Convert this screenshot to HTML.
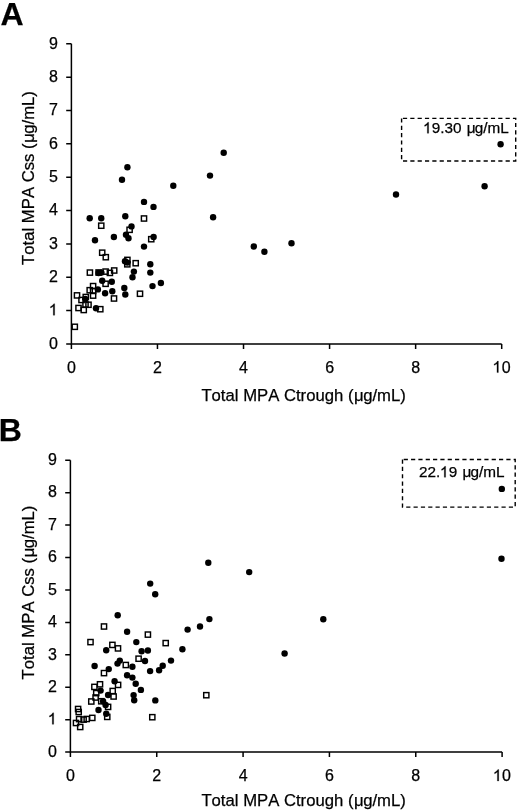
<!DOCTYPE html>
<html><head><meta charset="utf-8"><style>
html,body{margin:0;padding:0;background:#fff;width:520px;height:810px;overflow:hidden}
svg{display:block;will-change:transform}
text{font-family:"Liberation Sans",sans-serif;fill:#000;font-kerning:none;stroke:#000;stroke-width:0.25px}
.t{font-size:16px}
.a{font-size:16.7px;font-kerning:none}
.b{font-size:15.3px}
.L{font-size:32px;font-weight:bold}
</style></head><body>
<svg width="520" height="810" viewBox="0 0 520 810">
<path d="M71.4 43.8V343.9H501.7" fill="none" stroke="#000" stroke-width="1.5"/>
<path d="M66.2 343.90H71.4 M66.2 310.56H71.4 M66.2 277.22H71.4 M66.2 243.88H71.4 M66.2 210.54H71.4 M66.2 177.20H71.4 M66.2 143.86H71.4 M66.2 110.52H71.4 M66.2 77.18H71.4 M66.2 43.84H71.4 M71.40 343.9V348.9 M157.46 343.9V348.9 M243.52 343.9V348.9 M329.58 343.9V348.9 M415.64 343.9V348.9 M501.70 343.9V348.9 M66.2 43.8H71.4" fill="none" stroke="#000" stroke-width="1.5"/>
<text x="58.00" y="348.60" text-anchor="end" class="t">0</text>
<text x="58.00" y="315.26" text-anchor="end" class="t"> </text><path d="M713 0L533 0L533 1147Q468 1085 362 1023Q257 961 173 930L173 1104Q324 1175 437 1276Q550 1377 597 1472L713 1472Z" transform="translate(49.102 315.260) scale(0.007812 -0.007812)" stroke="#000" stroke-width="0.25" vector-effect="non-scaling-stroke"/>
<text x="58.00" y="281.92" text-anchor="end" class="t">2</text>
<text x="58.00" y="248.58" text-anchor="end" class="t">3</text>
<text x="58.00" y="215.24" text-anchor="end" class="t">4</text>
<text x="58.00" y="181.90" text-anchor="end" class="t">5</text>
<text x="58.00" y="148.56" text-anchor="end" class="t">6</text>
<text x="58.00" y="115.22" text-anchor="end" class="t">7</text>
<text x="58.00" y="81.88" text-anchor="end" class="t">8</text>
<text x="58.00" y="48.54" text-anchor="end" class="t">9</text>
<text x="71.40" y="372.60" text-anchor="middle" class="t">0</text>
<text x="157.46" y="372.60" text-anchor="middle" class="t">2</text>
<text x="243.52" y="372.60" text-anchor="middle" class="t">4</text>
<text x="329.58" y="372.60" text-anchor="middle" class="t">6</text>
<text x="415.64" y="372.60" text-anchor="middle" class="t">8</text>
<text x="501.70" y="372.60" text-anchor="middle" class="t"> 0</text><path d="M713 0L533 0L533 1147Q468 1085 362 1023Q257 961 173 930L173 1104Q324 1175 437 1276Q550 1377 597 1472L713 1472Z" transform="translate(492.802 372.600) scale(0.007812 -0.007812)" stroke="#000" stroke-width="0.25" vector-effect="non-scaling-stroke"/>
<path d="M401.6 118.4V161.0H515.7V118.4Z" fill="none" stroke="#000" stroke-width="1.4" stroke-dasharray="4.2 3.13"/>
<text x="423.33" y="133.30" class="b"> 9.30 <tspan dx="1">μ</tspan><tspan dx="-1">g</tspan>/mL</text><path d="M713 0L533 0L533 1147Q468 1085 362 1023Q257 961 173 930L173 1104Q324 1175 437 1276Q550 1377 597 1472L713 1472Z" transform="translate(423.330 133.300) scale(0.007471 -0.007471)" stroke="#000" stroke-width="0.25" vector-effect="non-scaling-stroke"/>
<rect x="141.40" y="215.90" width="5.2" height="5.2" fill="none" stroke="#000" stroke-width="1.45"/>
<rect x="98.65" y="223.10" width="5.2" height="5.2" fill="none" stroke="#000" stroke-width="1.45"/>
<rect x="127.00" y="227.20" width="5.2" height="5.2" fill="none" stroke="#000" stroke-width="1.45"/>
<rect x="148.65" y="236.60" width="5.2" height="5.2" fill="none" stroke="#000" stroke-width="1.45"/>
<rect x="99.60" y="250.10" width="5.2" height="5.2" fill="none" stroke="#000" stroke-width="1.45"/>
<rect x="103.20" y="254.60" width="5.2" height="5.2" fill="none" stroke="#000" stroke-width="1.45"/>
<rect x="124.80" y="257.30" width="5.2" height="5.2" fill="none" stroke="#000" stroke-width="1.45"/>
<rect x="124.70" y="261.70" width="5.2" height="5.2" fill="none" stroke="#000" stroke-width="1.45"/>
<rect x="133.10" y="260.60" width="5.2" height="5.2" fill="none" stroke="#000" stroke-width="1.45"/>
<rect x="137.40" y="291.15" width="5.2" height="5.2" fill="none" stroke="#000" stroke-width="1.45"/>
<rect x="87.30" y="270.00" width="5.2" height="5.2" fill="none" stroke="#000" stroke-width="1.45"/>
<rect x="96.00" y="269.90" width="5.2" height="5.2" fill="none" stroke="#000" stroke-width="1.45"/>
<rect x="103.00" y="269.00" width="5.2" height="5.2" fill="none" stroke="#000" stroke-width="1.45"/>
<rect x="107.30" y="270.30" width="5.2" height="5.2" fill="none" stroke="#000" stroke-width="1.45"/>
<rect x="111.60" y="267.90" width="5.2" height="5.2" fill="none" stroke="#000" stroke-width="1.45"/>
<rect x="103.00" y="281.20" width="5.2" height="5.2" fill="none" stroke="#000" stroke-width="1.45"/>
<rect x="90.50" y="283.50" width="5.2" height="5.2" fill="none" stroke="#000" stroke-width="1.45"/>
<rect x="87.10" y="287.60" width="5.2" height="5.2" fill="none" stroke="#000" stroke-width="1.45"/>
<rect x="90.50" y="288.30" width="5.2" height="5.2" fill="none" stroke="#000" stroke-width="1.45"/>
<rect x="74.40" y="292.80" width="5.2" height="5.2" fill="none" stroke="#000" stroke-width="1.45"/>
<rect x="90.50" y="293.00" width="5.2" height="5.2" fill="none" stroke="#000" stroke-width="1.45"/>
<rect x="111.40" y="295.90" width="5.2" height="5.2" fill="none" stroke="#000" stroke-width="1.45"/>
<rect x="78.90" y="297.40" width="5.2" height="5.2" fill="none" stroke="#000" stroke-width="1.45"/>
<rect x="83.15" y="294.40" width="5.2" height="5.2" fill="none" stroke="#000" stroke-width="1.45"/>
<rect x="82.90" y="301.90" width="5.2" height="5.2" fill="none" stroke="#000" stroke-width="1.45"/>
<rect x="85.90" y="302.15" width="5.2" height="5.2" fill="none" stroke="#000" stroke-width="1.45"/>
<rect x="75.90" y="305.40" width="5.2" height="5.2" fill="none" stroke="#000" stroke-width="1.45"/>
<rect x="81.15" y="307.40" width="5.2" height="5.2" fill="none" stroke="#000" stroke-width="1.45"/>
<rect x="97.70" y="306.60" width="5.2" height="5.2" fill="none" stroke="#000" stroke-width="1.45"/>
<rect x="72.20" y="324.20" width="5.2" height="5.2" fill="none" stroke="#000" stroke-width="1.45"/>
<circle cx="127.4" cy="167.3" r="3.2"/>
<circle cx="122.0" cy="179.8" r="3.2"/>
<circle cx="144.0" cy="201.9" r="3.2"/>
<circle cx="153.5" cy="206.9" r="3.2"/>
<circle cx="125.3" cy="216.3" r="3.2"/>
<circle cx="89.7" cy="218.3" r="3.2"/>
<circle cx="101.25" cy="218.3" r="3.2"/>
<circle cx="131.5" cy="226.4" r="3.2"/>
<circle cx="126.0" cy="234.7" r="3.2"/>
<circle cx="128.5" cy="238.2" r="3.2"/>
<circle cx="113.9" cy="237.0" r="3.2"/>
<circle cx="95.0" cy="240.2" r="3.2"/>
<circle cx="153.6" cy="237.0" r="3.2"/>
<circle cx="144.0" cy="246.6" r="3.2"/>
<circle cx="125.0" cy="261.3" r="3.2"/>
<circle cx="127.4" cy="262.6" r="3.2"/>
<circle cx="150.3" cy="264.2" r="3.2"/>
<circle cx="133.9" cy="271.6" r="3.2"/>
<circle cx="150.3" cy="272.6" r="3.2"/>
<circle cx="132.5" cy="277.2" r="3.2"/>
<circle cx="160.9" cy="283.0" r="3.2"/>
<circle cx="152.5" cy="286.1" r="3.2"/>
<circle cx="124.3" cy="288.0" r="3.2"/>
<circle cx="125.3" cy="294.5" r="3.2"/>
<circle cx="98.6" cy="273.0" r="3.2"/>
<circle cx="101.4" cy="272.6" r="3.2"/>
<circle cx="102.2" cy="280.8" r="3.2"/>
<circle cx="111.8" cy="281.7" r="3.2"/>
<circle cx="97.9" cy="289.4" r="3.2"/>
<circle cx="105.1" cy="293.3" r="3.2"/>
<circle cx="112.3" cy="291.3" r="3.2"/>
<circle cx="85.2" cy="299.0" r="3.2"/>
<circle cx="96.0" cy="308.3" r="3.2"/>
<circle cx="223.7" cy="152.7" r="3.2"/>
<circle cx="210.0" cy="175.6" r="3.2"/>
<circle cx="173.3" cy="185.8" r="3.2"/>
<circle cx="213.1" cy="217.3" r="3.2"/>
<circle cx="253.8" cy="246.5" r="3.2"/>
<circle cx="264.4" cy="251.7" r="3.2"/>
<circle cx="291.5" cy="243.3" r="3.2"/>
<circle cx="500.6" cy="144.2" r="3.2"/>
<circle cx="484.6" cy="186.2" r="3.2"/>
<circle cx="396.0" cy="194.5" r="3.2"/>
<text x="33.5" y="178.0" class="a" text-anchor="middle" transform="rotate(-90 33.5 178.0)">Total MPA Css (<tspan dx="0.6">μ</tspan><tspan dx="-0.6">g/mL)</tspan></text>
<text x="303.6" y="400.5" class="a" text-anchor="middle">Total MPA Ctrough (<tspan dx="0.6">μ</tspan><tspan dx="-0.6">g/mL)</tspan></text>
<text x="0.5" y="25" class="L">A</text>
<path d="M70.4 460.2V752.1H502.1" fill="none" stroke="#000" stroke-width="1.5"/>
<path d="M65.2 752.10H70.4 M65.2 719.67H70.4 M65.2 687.24H70.4 M65.2 654.81H70.4 M65.2 622.38H70.4 M65.2 589.95H70.4 M65.2 557.52H70.4 M65.2 525.09H70.4 M65.2 492.66H70.4 M65.2 460.23H70.4 M70.40 752.1V757.1 M156.74 752.1V757.1 M243.08 752.1V757.1 M329.42 752.1V757.1 M415.76 752.1V757.1 M502.10 752.1V757.1 M65.2 460.2H70.4" fill="none" stroke="#000" stroke-width="1.5"/>
<text x="57.00" y="756.80" text-anchor="end" class="t">0</text>
<text x="57.00" y="724.37" text-anchor="end" class="t"> </text><path d="M713 0L533 0L533 1147Q468 1085 362 1023Q257 961 173 930L173 1104Q324 1175 437 1276Q550 1377 597 1472L713 1472Z" transform="translate(48.102 724.370) scale(0.007812 -0.007812)" stroke="#000" stroke-width="0.25" vector-effect="non-scaling-stroke"/>
<text x="57.00" y="691.94" text-anchor="end" class="t">2</text>
<text x="57.00" y="659.51" text-anchor="end" class="t">3</text>
<text x="57.00" y="627.08" text-anchor="end" class="t">4</text>
<text x="57.00" y="594.65" text-anchor="end" class="t">5</text>
<text x="57.00" y="562.22" text-anchor="end" class="t">6</text>
<text x="57.00" y="529.79" text-anchor="end" class="t">7</text>
<text x="57.00" y="497.36" text-anchor="end" class="t">8</text>
<text x="57.00" y="464.93" text-anchor="end" class="t">9</text>
<text x="70.40" y="781.00" text-anchor="middle" class="t">0</text>
<text x="156.74" y="781.00" text-anchor="middle" class="t">2</text>
<text x="243.08" y="781.00" text-anchor="middle" class="t">4</text>
<text x="329.42" y="781.00" text-anchor="middle" class="t">6</text>
<text x="415.76" y="781.00" text-anchor="middle" class="t">8</text>
<text x="502.10" y="781.00" text-anchor="middle" class="t"> 0</text><path d="M713 0L533 0L533 1147Q468 1085 362 1023Q257 961 173 930L173 1104Q324 1175 437 1276Q550 1377 597 1472L713 1472Z" transform="translate(493.202 781.000) scale(0.007812 -0.007812)" stroke="#000" stroke-width="0.25" vector-effect="non-scaling-stroke"/>
<path d="M402.5 459.5V507.1H515.2V459.5Z" fill="none" stroke="#000" stroke-width="1.4" stroke-dasharray="4.2 3.13"/>
<text x="419.03" y="477.30" class="b">22. 9 <tspan dx="1">μ</tspan><tspan dx="-1">g</tspan>/mL</text><path d="M713 0L533 0L533 1147Q468 1085 362 1023Q257 961 173 930L173 1104Q324 1175 437 1276Q550 1377 597 1472L713 1472Z" transform="translate(440.299 477.300) scale(0.007471 -0.007471)" stroke="#000" stroke-width="0.25" vector-effect="non-scaling-stroke"/>
<rect x="145.30" y="632.00" width="5.2" height="5.2" fill="none" stroke="#000" stroke-width="1.45"/>
<rect x="163.10" y="640.50" width="5.2" height="5.2" fill="none" stroke="#000" stroke-width="1.45"/>
<rect x="136.00" y="656.10" width="5.2" height="5.2" fill="none" stroke="#000" stroke-width="1.45"/>
<rect x="203.70" y="692.60" width="5.2" height="5.2" fill="none" stroke="#000" stroke-width="1.45"/>
<rect x="149.70" y="714.60" width="5.2" height="5.2" fill="none" stroke="#000" stroke-width="1.45"/>
<rect x="101.40" y="623.90" width="5.2" height="5.2" fill="none" stroke="#000" stroke-width="1.45"/>
<rect x="87.90" y="639.50" width="5.2" height="5.2" fill="none" stroke="#000" stroke-width="1.45"/>
<rect x="109.80" y="642.30" width="5.2" height="5.2" fill="none" stroke="#000" stroke-width="1.45"/>
<rect x="115.40" y="645.80" width="5.2" height="5.2" fill="none" stroke="#000" stroke-width="1.45"/>
<rect x="123.20" y="662.40" width="5.2" height="5.2" fill="none" stroke="#000" stroke-width="1.45"/>
<rect x="101.40" y="670.50" width="5.2" height="5.2" fill="none" stroke="#000" stroke-width="1.45"/>
<rect x="97.40" y="681.70" width="5.2" height="5.2" fill="none" stroke="#000" stroke-width="1.45"/>
<rect x="115.50" y="682.30" width="5.2" height="5.2" fill="none" stroke="#000" stroke-width="1.45"/>
<rect x="91.80" y="684.30" width="5.2" height="5.2" fill="none" stroke="#000" stroke-width="1.45"/>
<rect x="93.65" y="690.50" width="5.2" height="5.2" fill="none" stroke="#000" stroke-width="1.45"/>
<rect x="110.10" y="688.40" width="5.2" height="5.2" fill="none" stroke="#000" stroke-width="1.45"/>
<rect x="111.00" y="693.90" width="5.2" height="5.2" fill="none" stroke="#000" stroke-width="1.45"/>
<rect x="93.00" y="694.90" width="5.2" height="5.2" fill="none" stroke="#000" stroke-width="1.45"/>
<rect x="88.70" y="698.90" width="5.2" height="5.2" fill="none" stroke="#000" stroke-width="1.45"/>
<rect x="98.65" y="698.65" width="5.2" height="5.2" fill="none" stroke="#000" stroke-width="1.45"/>
<rect x="105.50" y="704.30" width="5.2" height="5.2" fill="none" stroke="#000" stroke-width="1.45"/>
<rect x="104.65" y="714.30" width="5.2" height="5.2" fill="none" stroke="#000" stroke-width="1.45"/>
<rect x="75.50" y="706.40" width="5.2" height="5.2" fill="none" stroke="#000" stroke-width="1.45"/>
<rect x="76.10" y="709.40" width="5.2" height="5.2" fill="none" stroke="#000" stroke-width="1.45"/>
<rect x="76.50" y="716.50" width="5.2" height="5.2" fill="none" stroke="#000" stroke-width="1.45"/>
<rect x="81.00" y="717.00" width="5.2" height="5.2" fill="none" stroke="#000" stroke-width="1.45"/>
<rect x="84.10" y="716.40" width="5.2" height="5.2" fill="none" stroke="#000" stroke-width="1.45"/>
<rect x="89.70" y="715.30" width="5.2" height="5.2" fill="none" stroke="#000" stroke-width="1.45"/>
<rect x="73.40" y="720.40" width="5.2" height="5.2" fill="none" stroke="#000" stroke-width="1.45"/>
<rect x="77.60" y="724.40" width="5.2" height="5.2" fill="none" stroke="#000" stroke-width="1.45"/>
<circle cx="150.2" cy="583.6" r="3.2"/>
<circle cx="155.2" cy="594.2" r="3.2"/>
<circle cx="208.3" cy="562.7" r="3.2"/>
<circle cx="249.2" cy="572.1" r="3.2"/>
<circle cx="209.4" cy="619.1" r="3.2"/>
<circle cx="200.0" cy="626.5" r="3.2"/>
<circle cx="187.6" cy="629.6" r="3.2"/>
<circle cx="182.4" cy="649.2" r="3.2"/>
<circle cx="171.0" cy="660.6" r="3.2"/>
<circle cx="162.7" cy="665.8" r="3.2"/>
<circle cx="159.1" cy="670.3" r="3.2"/>
<circle cx="150.1" cy="671.1" r="3.2"/>
<circle cx="323.3" cy="619.2" r="3.2"/>
<circle cx="284.6" cy="653.5" r="3.2"/>
<circle cx="501.5" cy="558.8" r="3.2"/>
<circle cx="501.8" cy="488.9" r="3.2"/>
<circle cx="117.7" cy="615.2" r="3.2"/>
<circle cx="127.1" cy="631.7" r="3.2"/>
<circle cx="136.3" cy="642.1" r="3.2"/>
<circle cx="106.2" cy="650.2" r="3.2"/>
<circle cx="141.6" cy="651.3" r="3.2"/>
<circle cx="147.9" cy="650.5" r="3.2"/>
<circle cx="145.0" cy="661.0" r="3.2"/>
<circle cx="132.4" cy="666.8" r="3.2"/>
<circle cx="119.8" cy="660.6" r="3.2"/>
<circle cx="117.5" cy="663.6" r="3.2"/>
<circle cx="94.6" cy="666.0" r="3.2"/>
<circle cx="108.75" cy="669.1" r="3.2"/>
<circle cx="127.1" cy="675.3" r="3.2"/>
<circle cx="132.4" cy="677.6" r="3.2"/>
<circle cx="135.7" cy="683.8" r="3.2"/>
<circle cx="140.9" cy="689.9" r="3.2"/>
<circle cx="133.6" cy="695.1" r="3.2"/>
<circle cx="134.2" cy="700.3" r="3.2"/>
<circle cx="155.3" cy="700.4" r="3.2"/>
<circle cx="114.6" cy="681.3" r="3.2"/>
<circle cx="100.6" cy="690.6" r="3.2"/>
<circle cx="108.1" cy="695.0" r="3.2"/>
<circle cx="103.1" cy="701.2" r="3.2"/>
<circle cx="105.6" cy="705.0" r="3.2"/>
<circle cx="98.5" cy="710.0" r="3.2"/>
<circle cx="106.25" cy="713.75" r="3.2"/>
<text x="33.5" y="592.5" class="a" text-anchor="middle" transform="rotate(-90 33.5 592.5)">Total MPA Css (<tspan dx="0.6">μ</tspan><tspan dx="-0.6">g/mL)</tspan></text>
<text x="303.6" y="805.6" class="a" text-anchor="middle">Total MPA Ctrough (<tspan dx="0.6">μ</tspan><tspan dx="-0.6">g/mL)</tspan></text>
<text x="-1.2" y="440.6" class="L">B</text>
</svg>
</body></html>
